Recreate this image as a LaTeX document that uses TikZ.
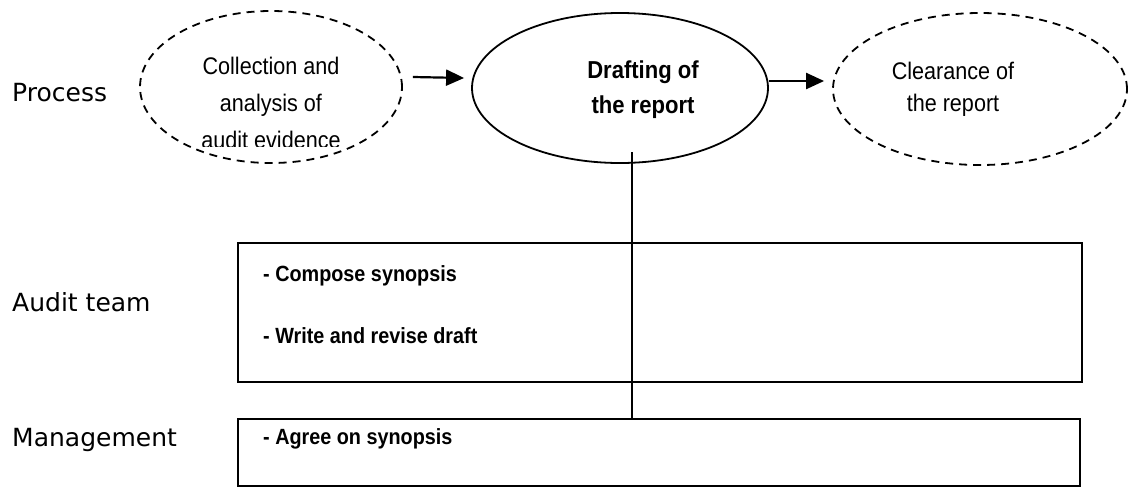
\documentclass[tikz,border=0pt]{standalone}
\usepackage{fontspec}
\setmainfont{Liberation Sans}
\newfontfamily\narrowfont[FakeStretch=0.9]{Liberation Sans}
\newfontfamily\lanefont{DejaVu Sans}
\usetikzlibrary{shapes.geometric,arrows.meta}
\tikzset{
  phase/.style={ellipse, draw, line width=1.8pt, inner sep=0pt},
  otherphase/.style={phase, dash pattern=on 8pt off 6pt},
  lanebox/.style={rectangle, draw, line width=1.5pt, inner sep=0pt},
  lanelabel/.style={anchor=west, inner sep=0pt, font=\lanefont\fontsize{25}{28}\selectfont},
  phasetext/.style={align=center, inner sep=0pt, font=\narrowfont\fontsize{24}{37}\selectfont},
  tasktext/.style={anchor=west, inner sep=0pt, font=\narrowfont\bfseries\fontsize{22}{26}\selectfont},
  flow/.style={line width=2.2pt, -{Triangle[length=18pt,width=16pt]}},
  stemline/.style={line width=1.2pt}
}
\begin{document}
\begin{tikzpicture}[x=1pt,y=-1pt]
\useasboundingbox (0,0) rectangle (1133,488);

% lane titles
\node[lanelabel] (lproc) at (12,93) {Process};
\node[lanelabel] (lteam) at (12,302) {Audit team};
\node[lanelabel] (lmgmt) at (12,440) {Management};

% process phases
\node[otherphase, minimum width=262pt, minimum height=152pt] (collect) at (271,87) {};
\node[phase, minimum width=296pt, minimum height=150pt] (draft) at (620,88) {};
\node[otherphase, minimum width=294pt, minimum height=152pt] (clear) at (980,89) {};

\begin{scope}
  \clip (140,0) rectangle (402,146);
  \node[phasetext] (tcollect) at (271,103) {Collection and\\analysis of\\audit evidence};
\end{scope}
\node[phasetext, font=\narrowfont\bfseries\fontsize{24.5}{35}\selectfont] (tdraft) at (643,90) {Drafting of\\the report};
\node[phasetext, font=\narrowfont\fontsize{24}{32}\selectfont] (tclear) at (953,89) {Clearance of\\the report};

% flow between phases
\draw[flow] ([shift={(10,-10)}]collect.east) -- ([shift={(-7,-10)}]draft.west);
\draw[flow] ([shift={(0,-7)}]draft.east) -- ([shift={(-8,-8)}]clear.west);

% responsibility boxes
\node[lanebox, minimum width=844pt, minimum height=139pt] (teambox) at (660,312.5) {};
\node[lanebox, minimum width=842pt, minimum height=67pt] (mgmtbox) at (659,452.5) {};

\node[tasktext] (t1) at (263,276) {- Compose synopsis};
\node[tasktext] (t2) at (263,336) {- Write and revise draft};
\node[tasktext] (t3) at (263,439) {- Agree on synopsis};

% link from the drafting phase down to the boxes
\coordinate (stem) at (632,152);
\draw[stemline] (stem) -- (stem |- mgmtbox.north);
\end{tikzpicture}
\end{document}
